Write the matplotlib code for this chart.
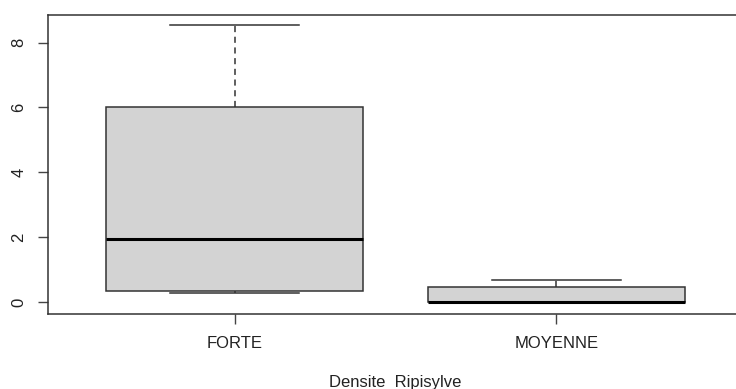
import matplotlib
matplotlib.use("Agg")
import matplotlib.pyplot as plt

plt.rcParams['font.family'] = ['Liberation Sans', 'DejaVu Sans']

# boxplot summary per ripisylve density class
categories = ["FORTE", "MOYENNE"]
whislo = [0.28, 0.0]
q1 = [0.34, 0.0]
median = [1.93, 0.0]
q3 = [6.02, 0.45]
whishi = [8.55, 0.68]

stats = []
for i in range(len(categories)):
    stats.append({'label': categories[i], 'whislo': whislo[i], 'q1': q1[i],
                  'med': median[i], 'q3': q3[i], 'whishi': whishi[i],
                  'fliers': []})

fig = plt.figure(figsize=(7.36, 3.89), dpi=100)
ax = fig.add_axes([48 / 736, 75 / 389, 695 / 736, 299 / 389])

ax.bxp(stats, positions=[1, 2], widths=0.8, patch_artist=True,
       showfliers=False,
       boxprops=dict(facecolor='#d3d3d3', edgecolor='#333333', linewidth=1.1),
       medianprops=dict(color='black', linewidth=2.2, solid_capstyle='butt'),
       whiskerprops=dict(color='#333333', linewidth=1.1, linestyle=(0, (4, 3))),
       capprops=dict(color='#333333', linewidth=1.1),
       capwidths=0.4)

ax.set_xlim(0.42, 2.58)
ax.set_ylim(-0.37, 8.85)
ax.set_yticks([0, 2, 4, 6, 8])
ax.set_xticks([1, 2])
ax.set_xticklabels(categories, fontsize=12, color='#222222')
for lab in ax.get_yticklabels():
    lab.set_rotation(90)
    lab.set_va('center')
    lab.set_fontsize(12)
    lab.set_color('#222222')
ax.tick_params(axis='y', length=7.5, width=1, color='#444444', pad=8)
ax.tick_params(axis='x', length=7, width=1, color='#444444', pad=9)
for s in ax.spines.values():
    s.set_color('#333333')
    s.set_linewidth(1.1)

ax.set_xlabel("Densite  Ripisylve", fontsize=12, color='#222222', labelpad=17)

fig.savefig('out.png', dpi=100)
